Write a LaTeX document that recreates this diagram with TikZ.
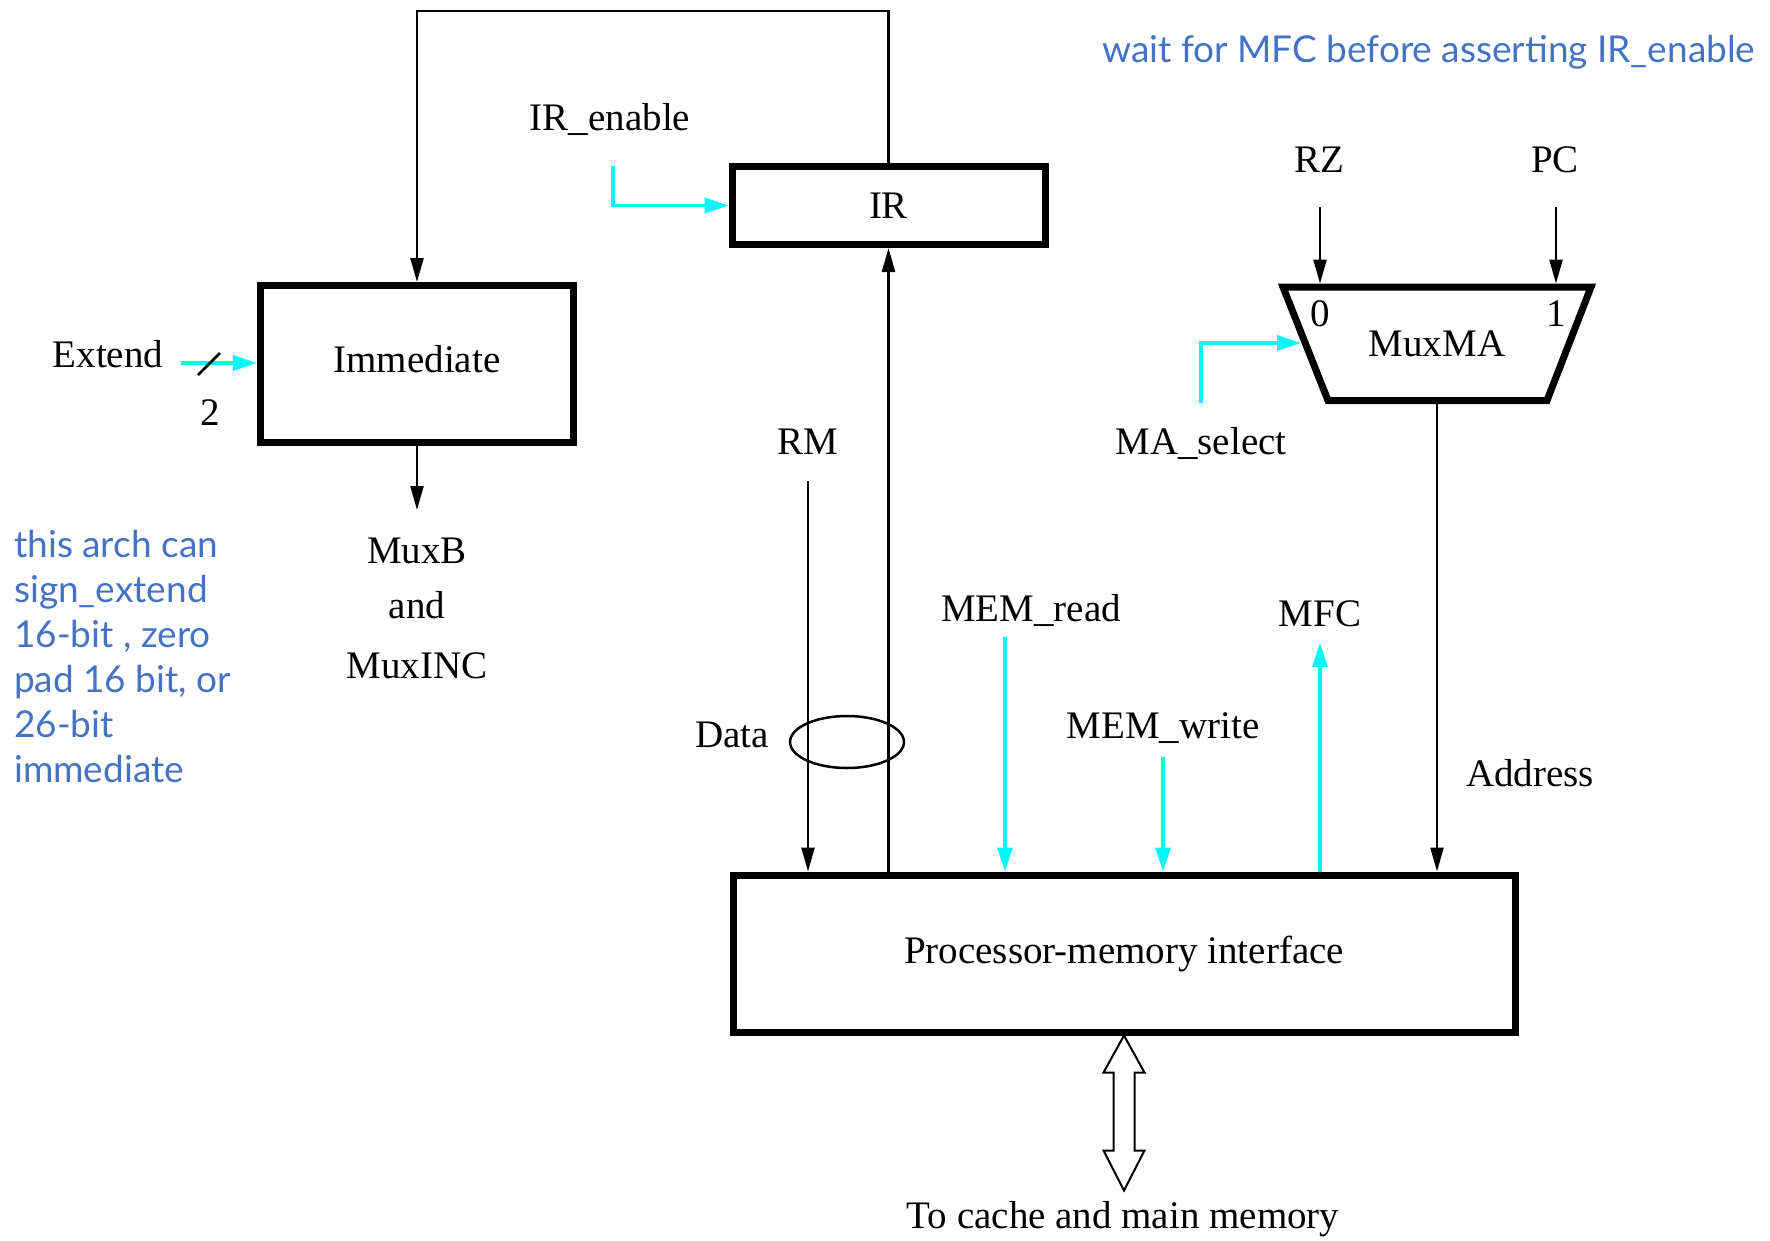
\documentclass[tikz,border=0pt]{standalone}
\usepackage{fontspec}
\setmainfont{Liberation Serif}
\newfontfamily\notefont{Lato}
\usetikzlibrary{arrows.meta,shapes.geometric,calc}
\definecolor{notecol}{RGB}{68,114,196}
\definecolor{sigcyan}{RGB}{0,248,248}
\begin{document}
\begin{tikzpicture}[x=1pt,y=-1pt,
  lbl/.style={font=\fontsize{39}{47}\selectfont, inner sep=0pt, anchor=base},
  note/.style={font=\notefont\fontsize{37}{45}\selectfont, text=notecol, inner sep=0pt, anchor=base west},
  thickbox/.style={draw, line width=7pt, inner sep=0pt, font=\fontsize{39}{47}\selectfont},
  wire/.style={line width=2.5pt},
  arr/.style={wire, -{Triangle[length=24pt,width=13pt]}},
  cwire/.style={line width=3.5pt, draw=sigcyan},
  carr/.style={cwire, -{Triangle[length=24pt,width=15pt]}},
]
\useasboundingbox (0,0) rectangle (1770,1240);

% boxes
\node[thickbox, minimum width=313pt, minimum height=78pt] (IR) at (888.5,205.5) {IR};
\node[thickbox, minimum width=313pt, minimum height=157pt] (Imm) at (417,364) {};
\node[lbl] (immtxt) at (417,372) {Immediate};
\node[thickbox, minimum width=782pt, minimum height=157pt] (PMI) at (1124,953.5) {Processor-memory interface};

% MuxMA
\coordinate (mtl) at (1283,287);
\coordinate (mtr) at (1591,287);
\coordinate (mbr) at (1547,400.5);
\coordinate (mbl) at (1328,400.5);
\draw[line width=7pt, line join=miter] (mtl) -- (mtr) -- (mbr) -- (mbl) -- cycle;
\coordinate (mux0) at (1320,283.5);
\coordinate (mux1) at (1556,283.5);
\coordinate (muxsel) at (1301,343);
\coordinate (muxout) at (1437,404);

% labels
\node[lbl] (irenl) at (610,130) {IR\_enable};
\node[lbl] (extl) at (108,367) {Extend};
\node[lbl] (two) at (210,425) {2};
\node[lbl] (muxbl) at (417,563) {MuxB};
\node[lbl] (andl) at (417,618) {and};
\node[lbl] (muxincl) at (417,678) {MuxINC};
\node[lbl] (rml) at (808,454) {RM};
\node[lbl] (datal) at (732,747) {Data};
\node[lbl] (mrl) at (1031,621) {MEM\_read};
\node[lbl] (mwl) at (1163,738) {MEM\_write};
\node[lbl] (mfcl) at (1320,626) {MFC};
\node[lbl] (addrl) at (1530,786) {Address};
\node[lbl] (rzl) at (1319,172) {RZ};
\node[lbl] (pcl) at (1555,172) {PC};
\node[lbl] (zero) at (1320,326) {0};
\node[lbl] (one) at (1556,326) {1};
\node[lbl] (muxmal) at (1437,356) {MuxMA};
\node[lbl] (masell) at (1201,454) {MA\_select};
\node[lbl] (cachel) at (1123,1228) {To cache and main memory};

% notes
\node[note] (wait) at (1102,62) {wait for MFC before asserting IR\_enable};
\node[note] (n1) at (14,557) {this arch can};
\node[note] (n2) at (14,602) {sign\_extend};
\node[note] (n3) at (14,647) {16-bit , zero};
\node[note] (n4) at (14,692) {pad 16 bit, or};
\node[note] (n5) at (14,737) {26-bit};
\node[note] (n6) at (14,782) {immediate};

% coordinates for free ends
\coordinate (fbtop) at (415,11);
\coordinate (irens) at (613,166);
\coordinate (exts) at (181,363);
\coordinate (muxbin) at (417,510);
\coordinate (rms) at (808,481);
\coordinate (mrs) at (1005,637);
\coordinate (mws) at (1163,757);
\coordinate (mfce) at (1320,643);
\coordinate (rzs) at (1320,207);
\coordinate (pcs) at (1556,207);
\coordinate (masels) at (1201,403);

% black connectors
\draw[arr] (IR.north) -- (IR.north |- fbtop) -| (Imm.north);
\draw[arr] (Imm.south) -- (muxbin);
\draw[arr] (rms) -- (rms |- PMI.north);
\draw[arr] (IR.south |- PMI.north) -- (IR.south);
\draw[arr] (muxout) -- (muxout |- PMI.north);
\draw[arr] (rzs) -- (mux0);
\draw[arr] (pcs) -- (mux1);

% cyan connectors
\draw[carr] (irens) |- (IR.west);
\draw[carr] (exts) -- (exts -| Imm.west);
\draw[carr] (masels) |- (muxsel);
\draw[carr] (mrs) -- (mrs |- PMI.north);
\draw[carr] (mws) -- (mws |- PMI.north);
\draw[carr] (mfce |- PMI.north) -- (mfce);

% bus width slash
\draw[wire] (198,375) -- (220,353);

% data ring
\node[draw, wire, ellipse, minimum width=114pt, minimum height=52pt, inner sep=0pt] (ring) at (847,742) {};

% hollow double arrow to memory
\begin{scope}[shift={(PMI.south)}]
\draw[line width=2pt, line join=miter]
  (0,0) -- (20.5,37) -- (10.5,37) -- (10.5,115) -- (20.5,115) -- (0,155)
  -- (-20.5,115) -- (-10.5,115) -- (-10.5,37) -- (-20.5,37) -- cycle;
\end{scope}
\end{tikzpicture}
\end{document}
